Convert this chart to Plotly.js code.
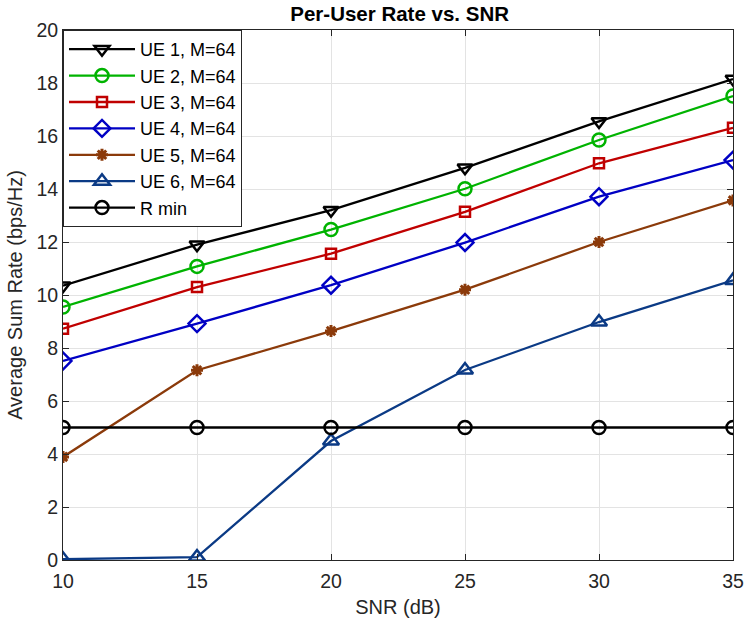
<!DOCTYPE html>
<html>
<head>
<meta charset="utf-8">
<script src="https://cdn.plot.ly/plotly-3.0.1.min.js"></script>
<style>
  html, body { margin: 0; padding: 0; background: #fff; }
  #chart { width: 747px; height: 630px; }
</style>
</head>
<body>
<div id="chart"></div>
<script>
// SNR points (dB)
var snr = [10, 15, 20, 25, 30, 35];

// per-user rate
var ue1 = [10.35, 11.9, 13.2, 14.8, 16.55, 18.15];
var ue2 = [9.55, 11.08, 12.47, 14.01, 15.85, 17.51];
var ue3 = [8.73, 10.3, 11.56, 13.14, 14.97, 16.31];
var ue4 = [7.51, 8.92, 10.37, 11.98, 13.71, 15.09];
var ue5 = [3.89, 7.16, 8.64, 10.2, 12.0, 13.57];
var ue6 = [0.03, 0.11, 4.49, 7.17, 8.98, 10.55];
var rMin = [5, 5, 5, 5, 5, 5];

var names = ['UE 1, M=64', 'UE 2, M=64', 'UE 3, M=64', 'UE 4, M=64', 'UE 5, M=64', 'UE 6, M=64', 'R min'];
var colors = ['#000000', '#00b300', '#c00000', '#0000c4', '#8b3a0a', '#0b3a85', '#000000'];
var symbols = ['triangle-down-open', 'circle-open', 'square-open', 'diamond-open', 'asterisk-open', 'triangle-up-open', 'circle-open'];
var sizes = [13, 13, 10, 13, 10, 14, 13];

var series = [ue1, ue2, ue3, ue4, ue5, ue6, rMin];

var data = series.map(function (ys, i) {
    return {
        type: 'scatter',
        mode: 'lines+markers',
        x: snr,
        y: ys,
        name: names[i],
        line: { color: colors[i], width: 2.3 },
        marker: {
            symbol: symbols[i],
            size: sizes[i],
            color: colors[i],
            line: { color: colors[i], width: i === 4 ? 3 : 2.5 }
        }
    };
});

var axisCommon = {
    showline: true,
    linecolor: '#262626',
    linewidth: 1,
    mirror: 'ticks',
    ticks: 'inside',
    ticklen: 6,
    tickcolor: '#262626',
    showgrid: true,
    gridcolor: '#e3e3e3',
    gridwidth: 1,
    zeroline: false,
    tickfont: { family: 'Liberation Sans, Arial, sans-serif', size: 19.5, color: '#262626' }
};

var layout = {
    width: 747,
    height: 630,
    margin: { l: 63, r: 14, t: 30, b: 70 },
    paper_bgcolor: '#ffffff',
    plot_bgcolor: '#ffffff',
    font: { family: 'Liberation Sans, Arial, sans-serif', color: '#262626' },
    title: {
        text: '<b>Per-User Rate vs. SNR</b>',
        font: { family: 'Liberation Sans, Arial, sans-serif', size: 20.5, color: '#000000' },
        x: 0.535,
        xanchor: 'center',
        y: 0.99,
        yanchor: 'top'
    },
    xaxis: Object.assign({}, axisCommon, {
        range: [10, 35],
        tickvals: [10, 15, 20, 25, 30, 35],
        ticklabelstandoff: 4,
        title: { text: 'SNR (dB)', font: { size: 20, color: '#262626' }, standoff: 8 }
    }),
    yaxis: Object.assign({}, axisCommon, {
        range: [0, 20],
        tickvals: [0, 2, 4, 6, 8, 10, 12, 14, 16, 18, 20],
        title: { text: 'Average Sum Rate (bps/Hz)', font: { size: 20, color: '#262626' }, standoff: 8 }
    }),
    legend: {
        x: 0,
        y: 1,
        xanchor: 'left',
        yanchor: 'top',
        bgcolor: '#ffffff',
        bordercolor: '#262626',
        borderwidth: 1,
        font: { family: 'Liberation Sans, Arial, sans-serif', size: 18, color: '#000000' },
        tracegroupgap: 0,
        itemwidth: 66
    },
    showlegend: true
};

Plotly.newPlot('chart', data, layout, { displayModeBar: false, staticPlot: true });
</script>
</body>
</html>
